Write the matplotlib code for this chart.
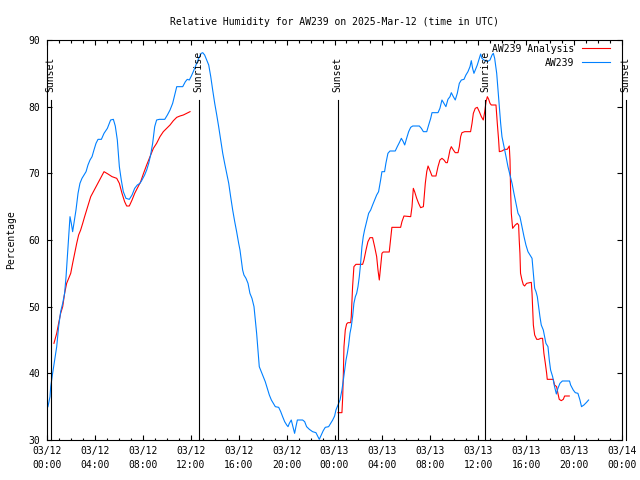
import numpy as np
import matplotlib
matplotlib.use('Agg')
import matplotlib.pyplot as plt

# hours since 2025-03-12 00:00 UTC
obs_hours = [0.08, 0.25, 0.31, 0.47, 0.64, 0.81, 0.97, 1.14, 1.31, 1.47, 1.59, 1.70, 1.81, 1.92, 2.03,
             2.14, 2.25, 2.42, 2.59, 2.75, 2.92, 3.09, 3.26, 3.42, 3.59, 3.76, 3.92, 4.09, 4.26, 4.54,
             4.76, 5.04, 5.31, 5.54, 5.70, 5.87, 6.04, 6.20, 6.37, 6.59, 6.87, 7.10, 7.32, 7.54, 7.76,
             7.93, 8.15, 8.32, 8.49, 8.65, 8.82, 8.99, 9.15, 9.38, 9.83, 10.05, 10.27, 10.49, 10.66, 10.83,
             11.33, 11.55, 11.71, 11.88, 12.05, 12.21, 12.38, 12.55, 12.72, 12.88, 13.00, 13.16, 13.33, 13.50, 13.67,
             13.83, 14.00, 14.17, 14.33, 14.50, 14.67, 14.83, 15.00, 15.17, 15.33, 15.50, 15.67, 15.83, 16.00, 16.11,
             16.22, 16.33, 16.44, 16.61, 16.78, 16.94, 17.11, 17.28, 17.39, 17.50, 17.61, 17.72, 17.89, 18.06, 18.22,
             18.39, 18.56, 18.73, 18.89, 19.06, 19.34, 19.51, 19.67, 19.84, 20.01, 20.12, 20.23, 20.39, 20.56, 20.67,
             20.78, 20.90, 21.34, 21.51, 21.67, 21.90, 22.17, 22.45, 22.62, 22.73, 22.90, 23.06, 23.23, 23.51, 23.68,
             23.85, 24.01, 24.12, 24.29, 24.46, 24.62, 24.74, 24.85, 24.96, 25.07, 25.18, 25.29, 25.40, 25.51, 25.62,
             25.74, 25.85, 25.96, 26.07, 26.18, 26.29, 26.40, 26.51, 26.68, 26.85, 27.02, 27.18, 27.35, 27.52, 27.68,
             27.85, 27.96, 28.18, 28.29, 28.46, 28.63, 29.07, 29.24, 29.41, 29.58, 29.74, 29.86, 30.02, 30.19, 30.36,
             30.53, 31.08, 31.25, 31.42, 31.70, 31.86, 32.03, 32.14, 32.64, 32.80, 32.97, 33.14, 33.30, 33.47, 33.64,
             33.75, 33.92, 34.08, 34.25, 34.42, 34.59, 34.81, 34.97, 35.14, 35.31, 35.42, 35.53, 35.64, 35.75, 35.92,
             36.09, 36.20, 36.31, 36.48, 36.76, 36.98, 37.15, 37.26, 37.37, 37.54, 37.65, 37.76, 37.87, 37.98, 38.15,
             38.32, 38.48, 38.65, 38.82, 38.98, 39.15, 39.32, 39.48, 39.65, 39.82, 39.98, 40.15, 40.32, 40.49, 40.60,
             40.71, 40.82, 40.93, 41.04, 41.15, 41.26, 41.43, 41.54, 41.65, 41.82, 41.93, 42.04, 42.21, 42.37, 42.52,
             42.65, 42.82, 43.02, 43.62, 43.71, 43.93, 44.10, 44.32, 44.49, 44.62, 44.82, 45.04, 45.21]
obs_rh = [35.0, 36.5, 38.0, 40.0, 42.0, 44.0, 47.0, 49.25, 50.5, 52.0, 54.5, 57.5, 60.25, 63.5, 62.5,
          61.25, 62.5, 64.5, 67.0, 68.5, 69.25, 69.75, 70.25, 71.25, 72.0, 72.5, 73.5, 74.5, 75.1, 75.1,
          76.0, 76.75, 78.0, 78.1, 77.1, 75.0, 71.0, 69.0, 67.25, 66.25, 66.1, 66.75, 67.75, 68.25, 68.5,
          69.0, 69.75, 70.5, 71.5, 72.75, 74.5, 77.0, 78.0, 78.1, 78.1, 78.75, 79.5, 80.5, 81.75, 83.0,
          83.0, 83.75, 84.1, 84.0, 84.6, 85.25, 86.0, 86.75, 87.5, 88.0, 88.1, 87.75, 87.0, 86.25, 84.5,
          82.5, 80.5, 78.75, 77.0, 75.0, 73.0, 71.5, 70.0, 68.5, 66.5, 64.5, 62.75, 61.25, 59.5, 58.5,
          57.0, 55.5, 54.75, 54.25, 53.5, 52.0, 51.25, 50.0, 48.0, 46.0, 43.5, 41.0, 40.25, 39.5, 38.75,
          37.75, 36.75, 36.0, 35.5, 35.0, 34.9, 34.25, 33.5, 32.75, 32.25, 32.0, 32.5, 33.0, 31.75, 31.0,
          32.0, 33.0, 33.0, 32.75, 32.0, 31.6, 31.25, 31.1, 30.5, 30.1, 30.75, 31.4, 31.9, 32.0, 32.5,
          33.0, 33.6, 34.5, 35.25, 36.0, 37.5, 39.0, 40.5, 42.0, 43.0, 44.25, 46.0, 47.0, 48.5, 50.5,
          51.5, 52.0, 53.0, 54.5, 56.5, 59.0, 60.5, 61.5, 62.75, 64.0, 64.5, 65.25, 66.0, 66.75, 67.25,
          69.0, 70.25, 70.25, 71.5, 73.0, 73.35, 73.35, 74.0, 74.6, 75.25, 74.75, 74.25, 75.25, 76.25, 76.9,
          77.1, 77.1, 76.75, 76.25, 76.25, 77.25, 78.25, 79.1, 79.1, 79.75, 81.0, 80.5, 80.0, 81.1, 81.5,
          82.1, 81.5, 81.0, 82.0, 83.5, 84.0, 84.1, 84.75, 85.25, 86.0, 86.9, 85.75, 85.0, 85.5, 86.25,
          87.25, 87.9, 87.25, 87.0, 86.75, 87.0, 87.75, 88.0, 87.25, 85.0, 82.5, 80.0, 77.5, 75.5, 74.0,
          72.5, 71.0, 69.75, 68.5, 67.0, 65.5, 64.0, 63.5, 62.0, 60.5, 59.25, 58.25, 57.75, 57.25, 55.0,
          52.75, 52.25, 51.5, 50.0, 48.5, 47.25, 46.5, 45.5, 44.5, 44.0, 42.0, 40.5, 39.5, 38.0, 36.9,
          37.75, 38.5, 38.85, 38.85, 38.25, 37.5, 37.1, 37.0, 36.0, 35.0, 35.25, 35.65, 36.0]

# analysis series (nan = no data between the two runs)
ana_hours = [0.58, 0.81, 0.97, 1.14, 1.31, 1.47, 1.64, 1.81, 1.98, 2.14, 2.31, 2.48, 2.64, 2.81, 2.98,
             3.14, 3.31, 3.48, 3.65, 3.87, 4.09, 4.31, 4.54, 4.76, 5.09, 5.43, 5.82, 6.04, 6.26, 6.48,
             6.65, 6.87, 7.10, 7.32, 7.60, 7.82, 8.04, 8.32, 8.60, 8.88, 9.15, 9.43, 9.71, 9.99, 10.27,
             10.55, 10.83, 11.10, 11.38, 11.66, 11.94, 18.0,
             24.29, 24.62, 24.68, 24.74, 24.79, 24.90, 25.01, 25.12, 25.35, 25.40, 25.51, 25.62, 25.79, 26.35, 26.46,
             26.63, 26.79, 26.96, 27.18, 27.35, 27.52, 27.63, 27.74, 27.85, 27.96, 28.07, 28.57, 28.68, 28.79, 29.52,
             29.63, 29.80, 30.36, 30.47, 30.58, 30.69, 30.86, 31.02, 31.19, 31.42, 31.58, 31.70, 31.81, 31.97, 32.14,
             32.47, 32.64, 32.80, 32.97, 33.14, 33.30, 33.42, 33.53, 33.64, 33.75, 33.92, 34.08, 34.31, 34.42, 34.53,
             34.64, 34.87, 35.36, 35.48, 35.59, 35.75, 35.92, 36.09, 36.26, 36.42, 36.54, 36.65, 36.76, 36.87, 36.98,
             37.09, 37.48, 37.59, 37.70, 37.76, 37.98, 38.20, 38.42, 38.59, 38.65, 38.70, 38.76, 38.87, 39.09, 39.26,
             39.37, 39.42, 39.48, 39.53, 39.65, 39.76, 39.87, 40.04, 40.43, 40.49, 40.54, 40.60, 40.71, 40.88, 41.04,
             41.21, 41.37, 41.48, 41.60, 41.71, 41.76, 42.26, 42.37, 42.54, 42.65, 42.76, 42.93, 43.10, 43.21, 43.60]
ana_rh = [44.5, 46.0, 47.5, 49.0, 50.0, 52.0, 53.5, 54.25, 55.0, 56.5, 58.0, 59.5, 60.75, 61.5, 62.5,
          63.5, 64.5, 65.5, 66.5, 67.25, 68.0, 68.75, 69.5, 70.25, 69.9, 69.5, 69.25, 68.5, 67.0, 65.75,
          65.1, 65.1, 66.0, 67.0, 68.0, 68.75, 69.9, 71.25, 72.5, 73.75, 74.5, 75.5, 76.25, 76.75, 77.25,
          77.9, 78.4, 78.6, 78.75, 79.0, 79.25, np.nan,
          34.1, 34.1, 36.25, 40.0, 44.0, 46.5, 47.4, 47.6, 47.6, 48.5, 53.0, 56.0, 56.35, 56.35, 57.0,
          58.5, 59.75, 60.35, 60.35, 59.0, 57.5, 55.5, 54.0, 56.0, 58.0, 58.2, 58.2, 60.0, 61.9, 61.9,
          62.75, 63.6, 63.5, 65.0, 67.75, 67.25, 66.25, 65.5, 64.85, 65.0, 68.5, 70.25, 71.1, 70.4, 69.6,
          69.6, 71.0, 72.0, 72.25, 72.0, 71.6, 71.6, 72.5, 73.5, 74.0, 73.5, 73.1, 73.1, 74.0, 75.5,
          76.1, 76.25, 76.25, 77.5, 79.0, 79.75, 79.9, 79.25, 78.5, 78.0, 79.25, 80.75, 81.5, 81.1, 80.5,
          80.25, 80.25, 77.5, 75.0, 73.25, 73.35, 73.6, 73.6, 74.1, 72.0, 67.5, 64.0, 61.75, 62.25, 62.5,
          62.25, 60.0, 58.0, 55.0, 54.0, 53.3, 53.1, 53.5, 53.65, 52.0, 50.0, 47.25, 45.75, 45.1, 45.1,
          45.25, 45.25, 43.0, 41.5, 40.0, 39.1, 39.1, 38.25, 38.0, 37.0, 36.1, 35.9, 36.1, 36.6, 36.6]

sun_hours = [0.3, 12.65, 24.27, 36.6, 48.3]
sun_labels = ['Sunset', 'Sunrise', 'Sunset', 'Sunrise', 'Sunset']

tick_hours = list(range(0, 49, 4))
tick_labels = ['03/12\n00:00', '03/12\n04:00', '03/12\n08:00', '03/12\n12:00', '03/12\n16:00',
               '03/12\n20:00', '03/13\n00:00', '03/13\n04:00', '03/13\n08:00', '03/13\n12:00',
               '03/13\n16:00', '03/13\n20:00', '03/14\n00:00']

plt.rcParams['font.family'] = 'DejaVu Sans Mono'
fs = 7
lw = 0.8

fig = plt.figure(figsize=(6.4, 4.8), dpi=100)
ax = fig.add_axes([47/640, 40/480, 575/640, 400/480])

ax.plot(ana_hours, ana_rh, color='#ff0000', lw=lw, label='AW239 Analysis')
ax.plot(obs_hours, obs_rh, color='#0080ff', lw=lw, label='AW239')

for h, lab in zip(sun_hours, sun_labels):
    ax.plot([h, h], [30, 81], color='black', lw=lw, clip_on=False)
    ax.text(h, 82.2, lab, rotation=90, ha='center', va='bottom', fontsize=fs, clip_on=False)

ax.set_xlim(0, 48)
ax.set_ylim(30, 90)
ax.set_xticks(tick_hours)
ax.set_xticklabels(tick_labels)
ax.set_xticks(np.arange(0, 49, 1), minor=True)
ax.set_yticks(np.arange(30, 91, 10))
for lbl in ax.get_xticklabels():
    lbl.set_linespacing(1.5)

ax.tick_params(which='both', direction='in', top=True, right=True, labelsize=fs, width=lw)
ax.tick_params(axis='x', which='major', length=3.5, pad=4)
ax.tick_params(axis='y', which='major', length=3.5, pad=5)
ax.tick_params(which='minor', length=1.8)
for sp in ax.spines.values():
    sp.set_linewidth(lw)

ax.set_title('Relative Humidity for AW239 on 2025-Mar-12 (time in UTC)', fontsize=fs, pad=11)
ax.set_ylabel('Percentage', fontsize=fs, labelpad=9)

ax.legend(loc='upper right', bbox_to_anchor=(1.0, 1.02), frameon=False, markerfirst=False,
          fontsize=fs, handlelength=2.9, handletextpad=0.8, borderpad=0, borderaxespad=1.2,
          labelspacing=0.4)

fig.savefig('out.png', dpi=100)
